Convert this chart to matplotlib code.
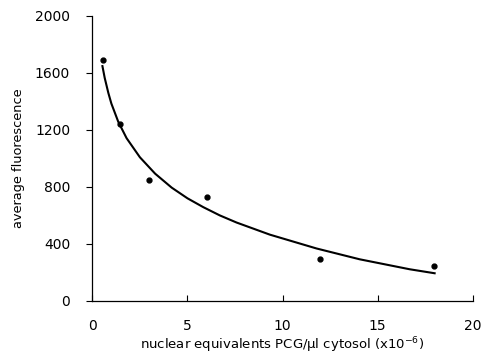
import matplotlib
matplotlib.use("Agg")
import matplotlib.pyplot as plt

conc = [0.55, 1.47, 3.0, 6.0, 11.95, 17.97]
fluor = [1689, 1242, 846, 726, 295, 248]

# fitted curve
fit_x = [0.53, 0.65, 0.84, 1.0, 1.36, 1.8, 2.5, 3.3, 4.17, 5.0, 5.83, 6.7, 7.58, 9.33, 11.78, 14.05, 16.68, 17.99]
fit_y = [1648, 1565, 1460, 1385, 1258, 1142, 1008, 893, 795, 720, 658, 600, 550, 465, 368, 292, 222, 194]

xticks = [0, 5, 10, 15, 20]
yticks = [0, 400, 800, 1200, 1600, 2000]

plt.rcParams['font.family'] = ['DejaVu Sans']

fig = plt.figure(figsize=(4.86, 3.54), dpi=100)
ax = fig.add_axes([0.19, 0.15, 0.783, 0.805])

ax.plot(fit_x, fit_y, color='black', lw=1.5)
ax.plot(conc, fluor, 'o', color='black', ms=3.5)

ax.set_xlim(0, 20)
ax.set_ylim(0, 2000)
ax.set_xticks(xticks)
ax.set_yticks(yticks)
ax.tick_params(axis='x', direction='in', length=4, labelsize=10, pad=13)
ax.tick_params(axis='y', direction='out', length=4, labelsize=10, pad=12)
for s in ['top', 'right']:
    ax.spines[s].set_visible(False)
for s in ['left', 'bottom']:
    ax.spines[s].set_linewidth(0.9)

ax.set_xlabel("nuclear equivalents PCG/\u00b5l cytosol (x10$^{-6}$)", fontsize=9.5, labelpad=2)
ax.set_ylabel("average fluorescence", fontsize=9.3, labelpad=7)

fig.savefig("out.png", dpi=100)
